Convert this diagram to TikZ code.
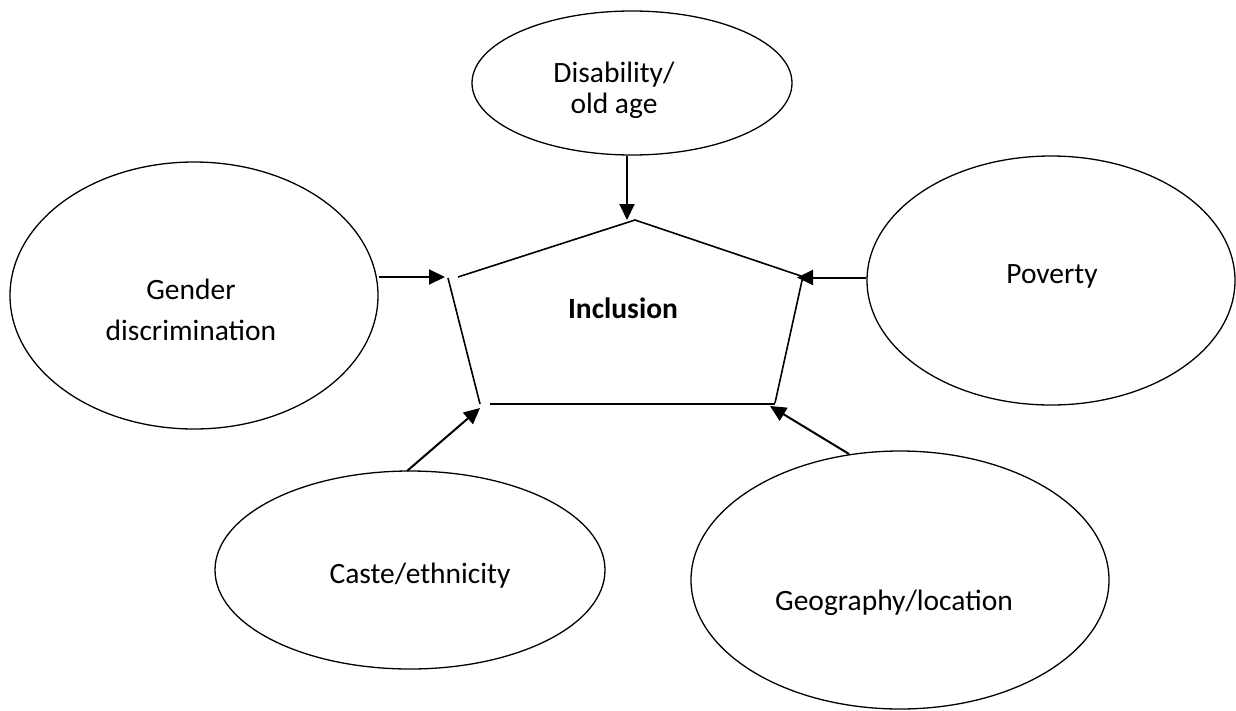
\documentclass[tikz,border=0pt]{standalone}
\usepackage{fontspec}
\setmainfont{Carlito}
\usetikzlibrary{arrows.meta,shapes.geometric}
\tikzset{
  oval/.style={ellipse, draw, line width=1.3pt, inner sep=0pt},
  lbl/.style={anchor=base, inner sep=0pt, font=\fontsize{29.5}{36}\selectfont},
  edge/.style={line width=1.6pt},
  arr/.style={line width=2pt, -{Triangle[length=16pt,width=15pt]}},
}
\begin{document}
\begin{tikzpicture}[x=1pt,y=-1pt]
\useasboundingbox (0,0) rectangle (1236,710);
% ellipses
\node[oval, minimum width=320pt, minimum height=144pt] (disab) at (632,83) {};
\node[oval, minimum width=368pt, minimum height=267pt] (gender) at (194,295.5) {};
\node[oval, minimum width=368pt, minimum height=249pt] (poverty) at (1051,280.5) {};
\node[oval, minimum width=390pt, minimum height=198pt] (caste) at (410,570) {};
\node[oval, minimum width=418pt, minimum height=258pt] (geo) at (900,580) {};
% labels
\node[lbl] (t1) at (614,82) {Disability/};
\node[lbl] (t2) at (614,113) {old age};
\node[lbl] (t3) at (191,299) {Gender};
\node[lbl] (t4) at (191,340) {discrimination};
\node[lbl] (t5) at (1052,283) {Poverty};
\node[lbl, font=\fontsize{29.5}{36}\selectfont\bfseries] (t6) at (623,318) {Inclusion};
\node[lbl] (t7) at (420,583) {Caste/ethnicity};
\node[lbl] (t8) at (894,610) {Geography/location};
% pentagon (edges with small gaps at corners)
\coordinate (apex) at (635,220);
\coordinate (tl) at (458,277);
\coordinate (tr) at (801,276);
\coordinate (l1) at (448,278);
\coordinate (l2) at (480,404);
\coordinate (b1) at (490,404);
\coordinate (b2) at (775,404);
\coordinate (r1) at (803,276);
\coordinate (r2) at (775,403);
\draw[edge] (tl) -- (apex) -- (tr);
\draw[edge] (l1) -- (l2);
\draw[edge] (b1) -- (b2);
\draw[edge] (r1) -- (r2);
% arrow tips
\coordinate (dtip) at (627,220);
\coordinate (gtip) at (445,277);
\coordinate (ptip) at (797,277.5);
\coordinate (ctip) at (480,408);
\coordinate (geotip) at (770,406);
\coordinate (cstart) at (407,471);
\coordinate (geostart) at (849,454);
\draw[arr] (disab.south -| dtip) -- (dtip);
\draw[arr] (gender.east |- gtip) -- (gtip);
\draw[arr] (poverty.west |- ptip) -- (ptip);
\draw[arr] (cstart) -- (ctip);
\draw[arr] (geostart) -- (geotip);
\end{tikzpicture}
\end{document}
